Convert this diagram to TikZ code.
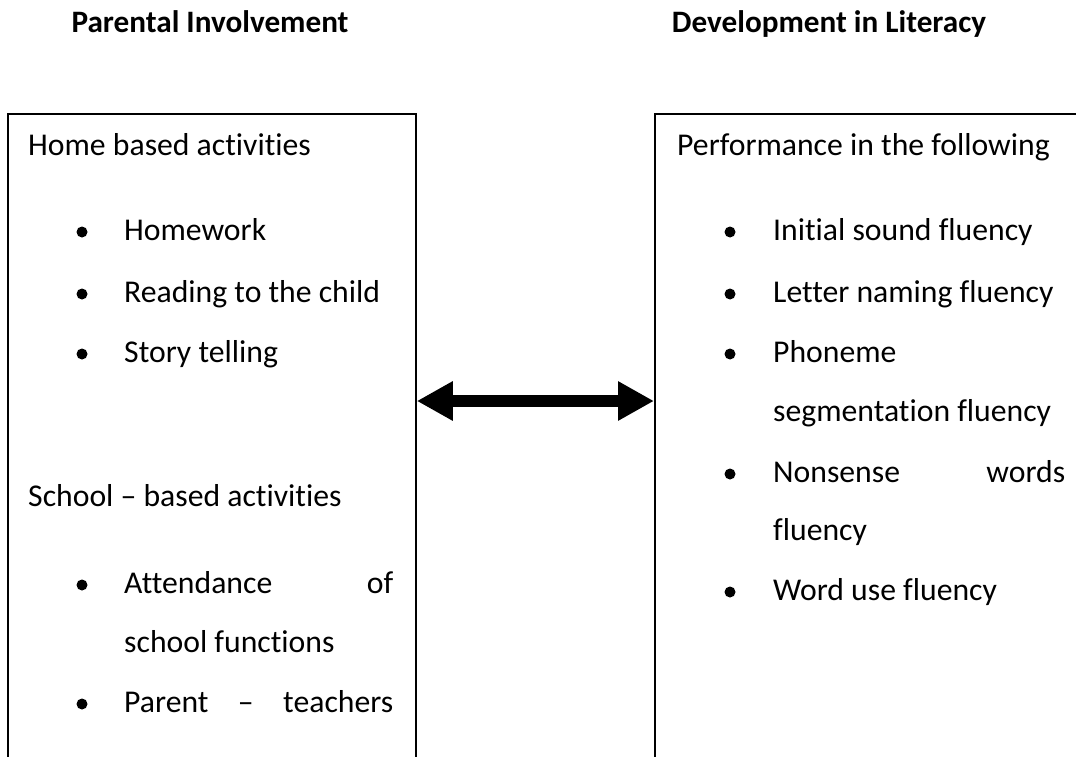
\documentclass[tikz,border=0pt]{standalone}
\usepackage{fontspec}
\setmainfont{Carlito}[Ligatures=NoCommon]
\usetikzlibrary{arrows.meta}
\begin{document}
\begin{tikzpicture}[x=1pt,y=-1pt,
  txt/.style={anchor=base west, inner sep=0pt, font=\fontsize{31.7}{38}\selectfont},
  ttl/.style={anchor=base, inner sep=0pt, font=\fontsize{31.2}{38}\selectfont\bfseries},
  bul/.style={circle, fill=black, inner sep=0pt, minimum size=11pt},
  panel/.style={draw=black, line width=1.8pt, anchor=north west, inner sep=0pt},
  bigarrow/.style={line width=12pt, {Triangle[length=36pt,width=37pt]}-{Triangle[length=36pt,width=37pt]}}]
\useasboundingbox (0,0) rectangle (1076,757);
\clip (0,0) rectangle (1076,757);
\fill[white] (0,0) rectangle (1076,757);
% titles
\node[ttl] (t1) at (210,33) {Parental Involvement};
\node[ttl] (t2) at (829,33) {Development in Literacy};
% panels
\node[panel, minimum width=408pt, minimum height=800pt] (L) at (7,113) {};
\node[panel, minimum width=600pt, minimum height=800pt] (R) at (654,113) {};
% left content
\node[txt] (l0) at (28,155) {Home based activities};
\node[bul] (lb1) at (82,232) {};
\node[txt] (l1) at (124,240) {Homework};
\node[bul] (lb2) at (82,294) {};
\node[txt] (l2) at (124,302) {Reading to the child};
\node[bul] (lb3) at (82,354) {};
\node[txt] (l3) at (124,362) {Story telling};
\node[txt] (l4) at (28,506) {School – based activities};
\node[bul] (lb4) at (82,585) {};
\node[txt] (l5) at (124,593) {\makebox[269pt][s]{Attendance of}};
\node[txt] (l6) at (124,652) {school functions};
\node[bul] (lb5) at (82,704) {};
\node[txt] (l7) at (124,712) {\makebox[269pt][s]{Parent – teachers}};
% right content
\node[txt] (r0) at (677,155) {Performance in the following};
\node[bul] (rb1) at (730,232) {};
\node[txt] (r1) at (773,240) {Initial sound fluency};
\node[bul] (rb2) at (730,294) {};
\node[txt] (r2) at (773,302) {Letter naming fluency};
\node[bul] (rb3) at (730,354) {};
\node[txt] (r3) at (773,362) {Phoneme};
\node[txt] (r4) at (773,421) {segmentation fluency};
\node[bul] (rb4) at (730,474) {};
\node[txt] (r5) at (773,482) {\makebox[292pt][s]{Nonsense words}};
\node[txt] (r6) at (773,540) {fluency};
\node[bul] (rb5) at (730,592) {};
\node[txt] (r7) at (773,600) {Word use fluency};
% arrow
\coordinate (mid) at (0,401);
\draw[bigarrow] (L.east |- mid) -- (R.west |- mid);
\end{tikzpicture}
\end{document}
